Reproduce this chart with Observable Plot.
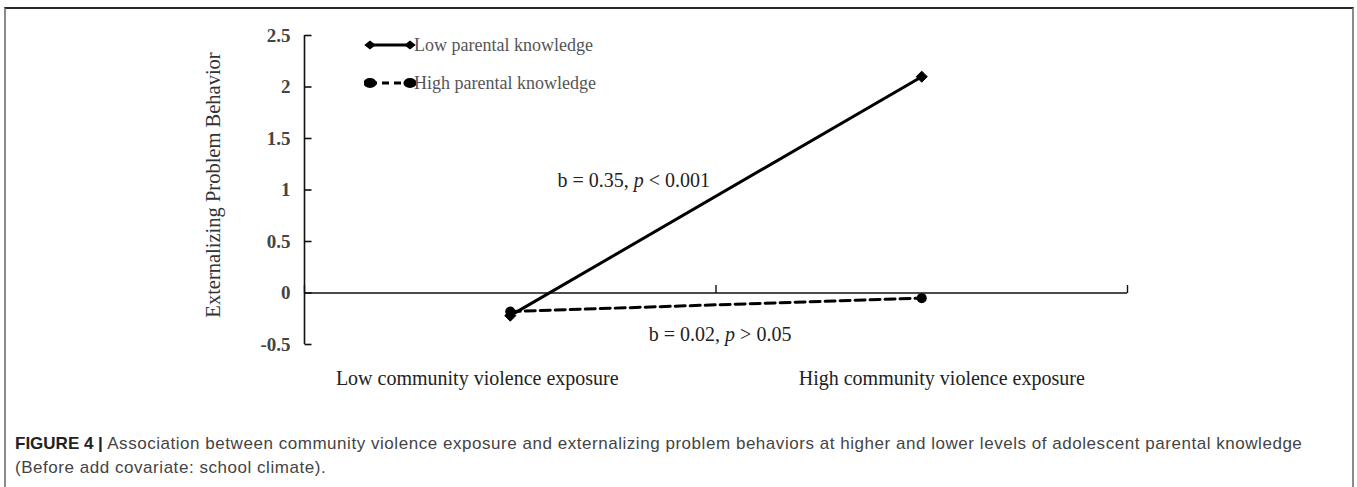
<!DOCTYPE html>
<html>
<head>
<meta charset="utf-8">
<script src="https://cdn.jsdelivr.net/npm/d3@7"></script>
<script src="https://cdn.jsdelivr.net/npm/@observablehq/plot@0.6"></script>
<style>
  body { margin: 0; background: #fff; }
  #frame { position: absolute; left: 4px; top: 7px; width: 1346px; height: 492px;
           border-top: 2px solid #2a2a2a; border-left: 2px solid #8a8a8a; border-right: 2px solid #8a8a8a; }
  #chart { position: absolute; left: 0; top: 0; }
  #legend { position: absolute; left: 0; top: 0; font-family: "Liberation Serif", "Times New Roman", serif;
            font-size: 18px; color: #555; }
  #legend .row { position: absolute; display: flex; align-items: center; white-space: nowrap; }
  #caption { position: absolute; left: 15px; top: 432px; width: 1330px; font-family: "Liberation Sans", Arial, sans-serif;
             font-size: 17px; letter-spacing: 0.54px; line-height: 24px; color: #444; white-space: nowrap; }
  #caption b { color: #222; letter-spacing: 0; }
</style>
</head>
<body>
<div id="frame"><div id="chart"></div></div>
<div id="legend"></div>
<div id="caption"><b>FIGURE 4 |</b> Association between community violence exposure and externalizing problem behaviors at higher and lower levels of adolescent parental knowledge<br>(Before add covariate: school climate).</div>
<script>
// ---- data ----
const categories = ["Low community violence exposure", "High community violence exposure"];
const seriesNames = ["Low parental knowledge", "High parental knowledge"];
const lowKnowledgeValues = [-0.22, 2.10];
const highKnowledgeValues = [-0.18, -0.05];
const yTickValues = [-0.5, 0, 0.5, 1, 1.5, 2, 2.5];
const yTickLabels = ["-0.5", "0", "0.5", "1", "1.5", "2", "2.5"];
const slopeLabels = ["b = 0.35, p < 0.001", "b = 0.02, p > 0.05"];
const slopeLabelX = [0.80, 1.01];
const slopeLabelY = [1.09, -0.40];
const yTitle = "Externalizing Problem Behavior";

// ---- derived tables ----
const categoryPos = categories.map((c, i) => i + 0.5);
const boundaries = d3.range(categories.length + 1);
const lowRows = categories.map((c, i) => ({cat: c, pos: categoryPos[i], value: lowKnowledgeValues[i]}));
const highRows = categories.map((c, i) => ({cat: c, pos: categoryPos[i], value: highKnowledgeValues[i]}));
const annotations = slopeLabels.map((t, i) => ({text: t, x: slopeLabelX[i], y: slopeLabelY[i]}));

const serif = "'Liberation Serif', 'Times New Roman', serif";
const ink = "#111";

const tickRight = {draw(ctx) { ctx.moveTo(0, 0); ctx.lineTo(7, 0); }};
const tickUp = {draw(ctx) { ctx.moveTo(0, 0); ctx.lineTo(0, -8); }};

const W = 1346, H = 400;
const plot = Plot.plot({
  width: W, height: H,
  marginLeft: 298, marginRight: 225, marginTop: 26, marginBottom: 65,
  style: {fontFamily: serif, background: "transparent", overflow: "visible"},
  x: {type: "linear", domain: [0, categories.length]},
  y: {domain: [-0.5, 2.5]},
  marks: [
    Plot.ruleX([0], {stroke: ink, strokeWidth: 1.6}),
    Plot.ruleY([0], {stroke: ink, strokeWidth: 1.6}),
    Plot.dot(yTickValues, {frameAnchor: "left", y: d => d, symbol: tickRight, stroke: ink, strokeWidth: 1.6, fill: "none"}),
    Plot.dot(boundaries, {x: d => d, y: 0, symbol: tickUp, stroke: ink, strokeWidth: 1.4, fill: "none"}),
    Plot.axisY({ticks: yTickValues, tickSize: 0, tickPadding: 14, label: null,
      tickFormat: d => yTickLabels[yTickValues.indexOf(d)], fontSize: 19, fontWeight: "bold", fill: "#444", fontFamily: serif}),
    Plot.axisX({ticks: [categoryPos[0]], tickSize: 0, tickPadding: 26, label: null, dx: -33,
      tickFormat: () => categories[0], fontSize: 20, fill: "#222", fontFamily: serif}),
    Plot.axisX({ticks: [categoryPos[1]], tickSize: 0, tickPadding: 26, label: null, dx: 20,
      tickFormat: () => categories[1], fontSize: 20, fill: "#222", fontFamily: serif}),
    Plot.text([yTitle], {frameAnchor: "left", textAnchor: "middle", rotate: -90, dx: -91, dy: -5, fontSize: 20.5, fill: "#333", fontFamily: serif}),
    Plot.line(lowRows, {x: "pos", y: "value", stroke: "#000", strokeWidth: 3}),
    Plot.line(highRows, {x: "pos", y: "value", stroke: "#000", strokeWidth: 3, strokeDasharray: "10,5"}),
    Plot.dot(lowRows, {x: "pos", y: "value", symbol: "diamond2", r: 5, fill: "#000", stroke: "#000", strokeWidth: 1}),
    Plot.dot(highRows, {x: "pos", y: "value", symbol: "circle", r: 5, fill: "#000", stroke: "none"}),
    Plot.text(annotations, {x: "x", y: "y", text: "text", fontSize: 20, fill: "#222", fontFamily: serif})
  ]
});
document.getElementById("chart").appendChild(plot);

// italic "p" in the slope annotations
const ns = "http://www.w3.org/2000/svg";
plot.querySelectorAll("text").forEach(t => {
  const s = t.textContent;
  if (!s.includes(", p ")) return;
  const parts = s.split(", p ");
  while (t.firstChild) t.removeChild(t.firstChild);
  const a = document.createElementNS(ns, "tspan"); a.textContent = parts[0] + ", ";
  const p = document.createElementNS(ns, "tspan"); p.textContent = "p"; p.setAttribute("font-style", "italic");
  const b = document.createElementNS(ns, "tspan"); b.textContent = " " + parts[1];
  t.appendChild(a); t.appendChild(p); t.appendChild(b);
});

// legend
const legend = document.getElementById("legend");
const legendRows = [
  {name: seriesNames[0], top: 45, marker: "diamond", dash: null},
  {name: seriesNames[1], top: 83, marker: "circle", dash: "7,5"}
];
legendRows.forEach(r => {
  const row = document.createElement("div");
  row.className = "row";
  row.style.left = "364px";
  row.style.top = (r.top - 11) + "px";
  row.style.height = "22px";
  const sym = r.marker === "diamond" ? d3.symbol(d3.symbolDiamond2, 50)() : d3.symbol(d3.symbolCircle, 80)();
  row.innerHTML = `<svg width="52" height="22" style="display:block">
    <line x1="6" x2="46" y1="11" y2="11" stroke="#000" stroke-width="3" ${r.dash ? `stroke-dasharray="${r.dash}"` : ""}/>
    <path d="${sym}" transform="translate(6,11) scale(1.3,1)" fill="#000"/>
    <path d="${sym}" transform="translate(46,11) scale(1.3,1)" fill="#000"/>
  </svg><span style="margin-left:-2px">${r.name}</span>`;
  legend.appendChild(row);
});
</script>
</body>
</html>
